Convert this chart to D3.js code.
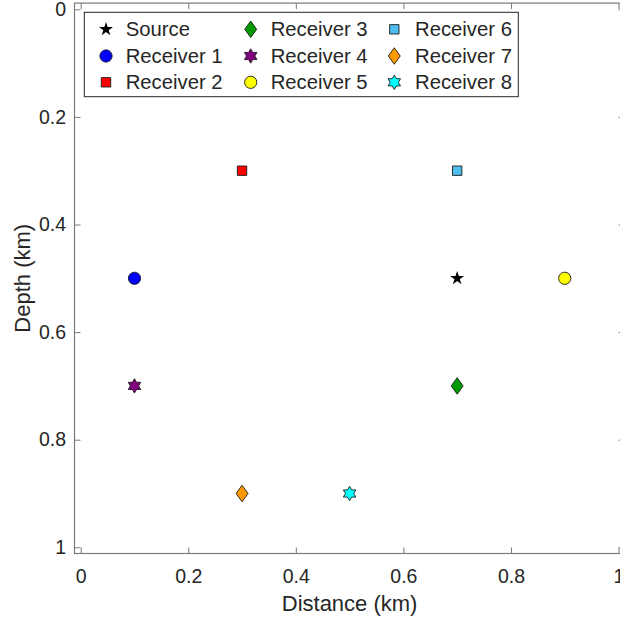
<!DOCTYPE html>
<html>
<head>
<meta charset="utf-8">
<script src="https://cdn.jsdelivr.net/npm/d3@7"></script>
<style>
  html, body { margin: 0; padding: 0; background: #fff; }
  svg { display: block; }
  text { font-family: "Liberation Sans", Arial, Helvetica, sans-serif; fill: #262626; }
</style>
</head>
<body>
<svg id="chart" width="620" height="623"></svg>
<script>
// ---- data ----
const names = ["Source", "Receiver 1", "Receiver 2", "Receiver 3", "Receiver 4",
               "Receiver 5", "Receiver 6", "Receiver 7", "Receiver 8"];
const distances = [0.7, 0.1, 0.3, 0.7, 0.1, 0.9, 0.7, 0.3, 0.5];
const depths    = [0.5, 0.5, 0.3, 0.7, 0.7, 0.5, 0.3, 0.9, 0.9];
const shapes    = ["star", "circle", "square", "diamond", "hexagram",
                   "circle", "square", "diamond", "hexagram"];
const fills     = ["#000000", "#0000ff", "#ff0000", "#009a00", "#800080",
                   "#ffff00", "#4dbeee", "#ff9900", "#00ffff"];
const xTicks = [0, 0.2, 0.4, 0.6, 0.8, 1];
const yTicks = [0, 0.2, 0.4, 0.6, 0.8, 1];
const xLabel = "Distance (km)";
const yLabel = "Depth (km)";

// ---- layout ----
const svg = d3.select("#chart");
const x = d3.scaleLinear().domain([0, 1]).range([80.7, 618.5]);
const y = d3.scaleLinear().domain([0, 1]).range([9.3, 547.3]);
const off = 6.2;                 // ruler offset from data area
const boxL = x(0) - off, boxR = x(1) + off, boxT = y(0) - off, boxB = y(1) + off;
const axisColor = "#7a7a7a";
const tickLen = 6;

// custom symbol types
const diamondType = {
  draw(ctx, size) {
    const hw = Math.sqrt(size / 2.8), hh = hw * 1.38;
    ctx.moveTo(0, -hh); ctx.lineTo(hw, 0); ctx.lineTo(0, hh); ctx.lineTo(-hw, 0); ctx.closePath();
  }
};
const hexagramType = {
  draw(ctx, size) {
    const R = Math.sqrt(size / 1.75), r = R / Math.sqrt(3);
    for (let i = 0; i < 12; i++) {
      const a = -Math.PI / 2 + i * Math.PI / 6;
      const rr = i % 2 === 0 ? R : r;
      const px = rr * Math.cos(a), py = rr * Math.sin(a);
      if (i === 0) ctx.moveTo(px, py); else ctx.lineTo(px, py);
    }
    ctx.closePath();
  }
};
const typeOf = { star: d3.symbolStar, circle: d3.symbolCircle, square: d3.symbolSquare,
                 diamond: diamondType, hexagram: hexagramType };
const sizeOf = { star: 60, circle: 118, square: 88, diamond: 100, hexagram: 90 };
const symbolPath = s => d3.symbol().type(typeOf[s]).size(sizeOf[s])();

// ---- axes ----
const xAxisBottom = d3.axisBottom(x).tickValues(xTicks).tickFormat(d3.format("~g"))
  .tickSizeInner(-tickLen).tickSizeOuter(0).tickPadding(15.5);
const gxb = svg.append("g").attr("transform", `translate(0,${boxB})`).call(xAxisBottom);
gxb.select(".domain").remove();
gxb.selectAll(".tick line").attr("stroke", axisColor);
gxb.selectAll(".tick text").attr("font-size", "19.5px").attr("fill", "#262626");

const xAxisTop = d3.axisTop(x).tickValues(xTicks).tickFormat("")
  .tickSizeInner(-tickLen).tickSizeOuter(0);
const gxt = svg.append("g").attr("transform", `translate(0,${boxT})`).call(xAxisTop);
gxt.select(".domain").remove();
gxt.selectAll(".tick line").attr("stroke", axisColor);

const yAxisLeft = d3.axisLeft(y).tickValues(yTicks).tickFormat(d3.format("~g"))
  .tickSizeInner(-tickLen).tickSizeOuter(0).tickPadding(8.5);
const gyl = svg.append("g").attr("transform", `translate(${boxL},0)`).call(yAxisLeft);
gyl.select(".domain").remove();
gyl.selectAll(".tick line").attr("stroke", axisColor);
gyl.selectAll(".tick text").attr("font-size", "19.5px").attr("fill", "#262626");

const yAxisRight = d3.axisRight(y).tickValues(yTicks).tickFormat("")
  .tickSizeInner(-tickLen).tickSizeOuter(0);
const gyr = svg.append("g").attr("transform", `translate(${boxR},0)`).call(yAxisRight);
gyr.select(".domain").remove();
gyr.selectAll(".tick line").attr("stroke", axisColor);

// ruler lines
svg.append("rect")
  .attr("x", boxL).attr("y", boxT)
  .attr("width", boxR - boxL).attr("height", boxB - boxT)
  .attr("fill", "none").attr("stroke", axisColor).attr("stroke-width", 1.2);

// axis labels
svg.append("text")
  .attr("x", (x(0) + x(1)) / 2).attr("y", 611)
  .attr("text-anchor", "middle").attr("font-size", "22px")
  .text(xLabel);
svg.append("text")
  .attr("transform", `translate(30,${(y(0) + y(1)) / 2}) rotate(-90)`)
  .attr("text-anchor", "middle").attr("font-size", "22px")
  .text(yLabel);

// ---- markers ----
svg.append("g").selectAll("path")
  .data(names.map((n, i) => ({ n, i })))
  .join("path")
  .attr("d", d => symbolPath(shapes[d.i]))
  .attr("transform", d => `translate(${x(distances[d.i])},${y(depths[d.i])})`)
  .attr("fill", d => fills[d.i])
  .attr("stroke", d => d.i === 0 ? "none" : "#1a1a1a")
  .attr("stroke-width", 0.9);

// ---- legend ----
const lg = svg.append("g");
lg.append("rect")
  .attr("x", 84.3).attr("y", 12.3).attr("width", 434).attr("height", 84.4)
  .attr("fill", "#fff").attr("stroke", "#262626").attr("stroke-width", 1);
const colMarkerX = [106, 250.7, 394.3];
const colTextX = [125.7, 270.7, 415];
const rowY = [29.3, 56, 82.3];
const items = lg.selectAll("g.item")
  .data(names.map((n, i) => ({ n, i })))
  .join("g").attr("class", "item");
items.append("path")
  .attr("d", d => symbolPath(shapes[d.i]))
  .attr("transform", d => `translate(${colMarkerX[Math.floor(d.i / 3)]},${rowY[d.i % 3]})`)
  .attr("fill", d => fills[d.i])
  .attr("stroke", d => d.i === 0 ? "none" : "#1a1a1a")
  .attr("stroke-width", 0.9);
items.append("text")
  .attr("x", d => colTextX[Math.floor(d.i / 3)])
  .attr("y", d => rowY[d.i % 3])
  .attr("dy", "0.35em")
  .attr("font-size", "20.3px")
  .attr("fill", "#000")
  .text(d => d.n);
</script>
</body>
</html>
